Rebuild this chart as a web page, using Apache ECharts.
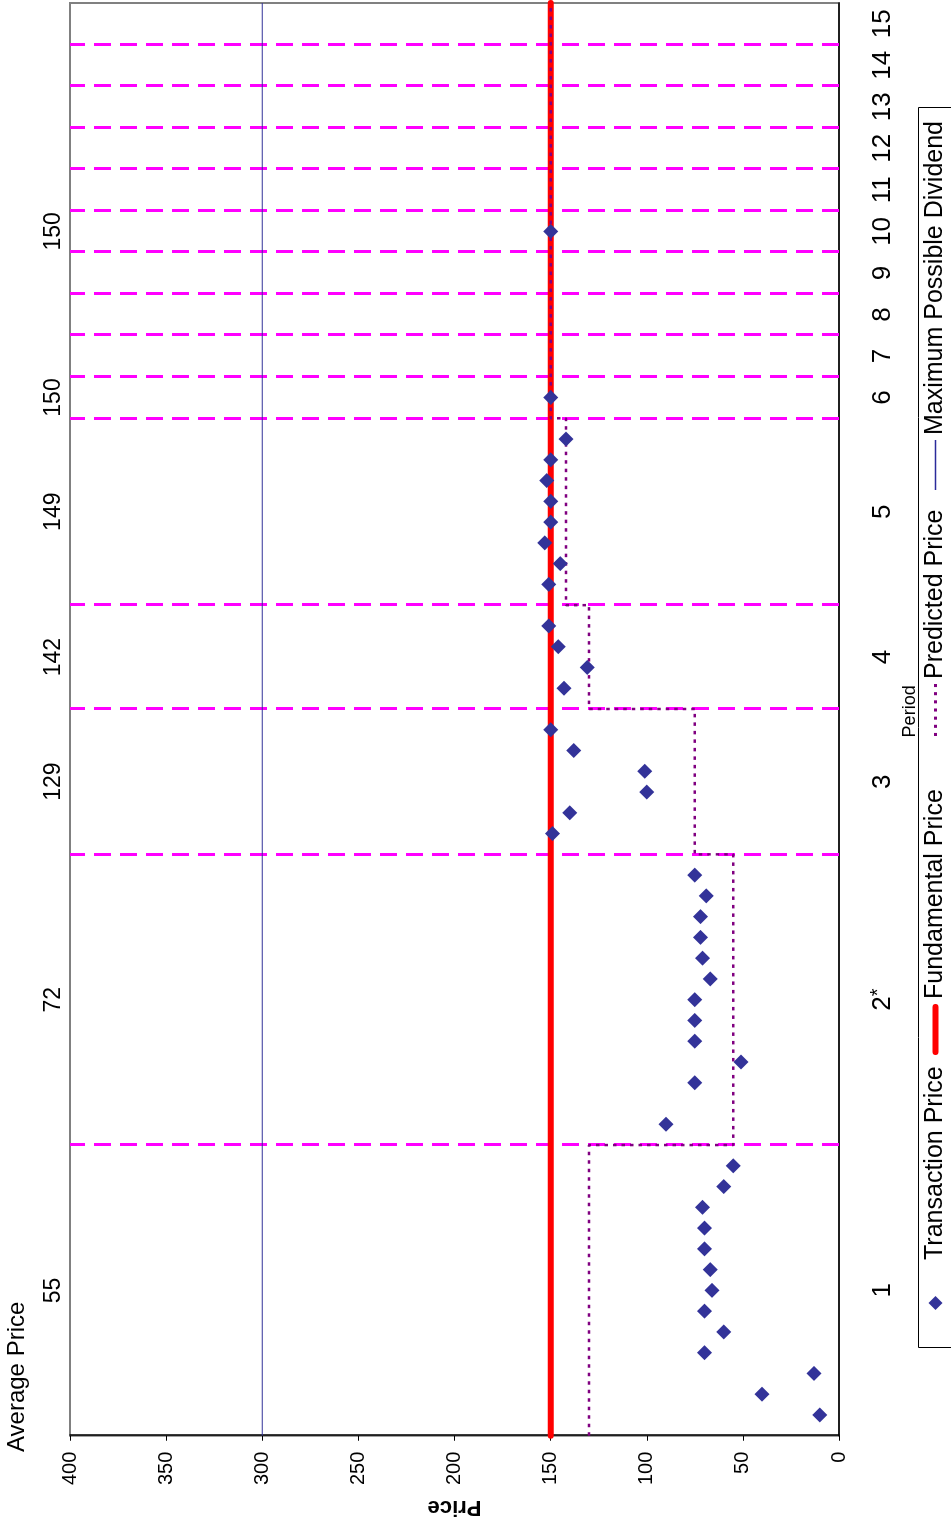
<!DOCTYPE html>
<html>
<head>
<meta charset="utf-8">
<script src="https://cdn.jsdelivr.net/npm/echarts@6/dist/echarts.min.js"></script>
<style>
html,body{margin:0;padding:0;width:951px;height:1526px;overflow:hidden;background:#fff;}
#chart{position:absolute;left:0;top:0;width:1526px;height:951px;transform-origin:0 0;transform:translate(0,1526px) rotate(-90deg);}
</style>
</head>
<body>
<div id="chart"></div>
<script>
// ---- data ----
const periodLabels = ['1','2*','3','4','5','6','7','8','9','10','11','12','13','14','15'];
const periodBounds = [0,14,28,35,40,49,51,53,55,57,59,61,63,65,67,69];
const transSlot = [1,2,3,4,5,6,7,8,9,10,11,12,13,
                   15,17,18,19,20,21,22,23,24,25,26,27,
                   29,30,31,32,33,34,
                   36,37,38,39,
                   41,42,43,44,45,46,47,48,
                   50,58];
const transPrice = [10,40,13,70,60,70,66,67,70,70,71,60,55,
                    90,75,51,75,75,75,67,71,72,72,69,75,
                    149,140,100,101,138,150,
                    143,131,146,151,
                    151,145,153,150,150,152,150,142,
                    150,150];
const avgPeriods = [1,2,3,4,5,6,10];
const avgLabels = ['55','72','129','142','149','150','150'];
const predictedPrice = [130,55,75,130,142,150,150,150,150,150,150,150,150,150,150];
const fundamentalPrice = [150,150,150,150,150,150,150,150,150,150,150,150,150,150,150];
const maxDividend = [300,300,300,300,300,300,300,300,300,300,300,300,300,300,300];
const priceMin = 0, priceMax = 400, priceInterval = 50;

// ---- fonts ----
function hasFont(name) {
  const c = document.createElement('canvas').getContext('2d');
  const t = 'mmmmmmmmwwwwwlli0123456789';
  c.font = '40px monospace';
  const w0 = c.measureText(t).width;
  c.font = '40px "' + name + '", monospace';
  return Math.abs(c.measureText(t).width - w0) > 0.5;
}
const FF = '"Liberation Sans", Arial, Helvetica, sans-serif';
const hasNarrow = hasFont('Liberation Sans Narrow');
const NF = hasNarrow ? '"Liberation Sans Narrow", "Arial Narrow", sans-serif' : FF;
const tickSize = hasNarrow ? 22 : 20;
const avgSize = hasNarrow ? 26 : 23;
const priceNameSize = hasNarrow ? 24 : 22;

// ---- helpers ----
const lastSlot = periodBounds[periodBounds.length - 1];
const periodCenters = periodLabels.map((_, i) => (periodBounds[i] + periodBounds[i + 1]) / 2);
const avgCenters = avgPeriods.map(p => periodCenters[p - 1]);
function stepData(vals) {
  const pts = vals.map((v, i) => [periodBounds[i], v]);
  pts.push([lastSlot, vals[vals.length - 1]]);
  return pts;
}
function findIdx(arr, v) {
  for (let i = 0; i < arr.length; i++) if (Math.abs(arr[i] - v) < 1e-6) return i;
  return -1;
}
function periodText(lbl) {
  const m = /^(\d+)\*$/.exec(lbl);
  return m ? '{n|' + m[1] + '}{s|*}' : '{n|' + lbl + '}';
}
// dotted legend key: small squares along a 52 px strip
let dotPath = 'path://';
for (let x = 0; x + 3 <= 52; x += 8) dotPath += 'M' + x + ',0h3v3h-3z';
const capsulePath = 'path://M3,0L48,0A3,3,0,0,1,48,6L3,6A3,3,0,0,1,3,0Z';

const chart = echarts.init(document.getElementById('chart'), null, {width: 1526, height: 951});
const legendBase = {
  orient: 'horizontal', padding: 0, selectedMode: false, symbolKeepAspect: false,
  textStyle: {fontSize: 25, color: '#000', fontFamily: FF}
};

chart.setOption({
  animation: false,
  backgroundColor: '#fff',
  textStyle: {fontFamily: FF},
  title: {
    text: 'Average Price', left: 74, top: 5, padding: 0,
    textStyle: {fontSize: 24, fontWeight: 'normal', color: '#000', fontFamily: FF}
  },
  legend: [
    Object.assign({}, legendBase, {
      data: [{name: 'Transaction Price', icon: 'diamond', itemStyle: {color: '#333399', opacity: 1}, textStyle: {padding: [0, 0, 0, 31]}}],
      left: 216, top: 923, itemWidth: 14, itemHeight: 14
    }),
    Object.assign({}, legendBase, {
      data: [{name: 'Fundamental Price', icon: capsulePath, itemStyle: {color: '#FF0000', borderWidth: 0}}],
      left: 471, top: 923, itemWidth: 51, itemHeight: 6
    }),
    Object.assign({}, legendBase, {
      data: [{name: 'Predicted Price', icon: dotPath, itemStyle: {color: '#800080', borderWidth: 0}}],
      left: 790, top: 923, itemWidth: 52, itemHeight: 3
    }),
    Object.assign({}, legendBase, {
      data: [{name: 'Maximum Possible Dividend', icon: 'rect', itemStyle: {color: '#2b2b9a', borderWidth: 0}}],
      left: 1036, top: 923, itemWidth: 50, itemHeight: 1.6
    })
  ],
  graphic: [{
    type: 'rect', left: 178, top: 918, z: -1,
    shape: {width: 1240, height: 60},
    style: {fill: '#fff', stroke: '#000', lineWidth: 1}
  }],
  grid: {left: 86, right: 3, top: 70, bottom: 112, show: true, borderColor: '#808080', borderWidth: 2, backgroundColor: '#fff'},
  xAxis: [{
    type: 'value', min: 0, max: lastSlot, position: 'bottom',
    axisLine: {show: true, onZero: false, lineStyle: {color: '#000', width: 1.5}},
    axisTick: {show: false},
    splitLine: {show: false},
    axisLabel: {
      customValues: periodCenters, margin: 29, color: '#000', fontFamily: FF,
      formatter: v => { const i = findIdx(periodCenters, v); return i >= 0 ? periodText(periodLabels[i]) : ''; },
      rich: {
        n: {fontSize: 26, lineHeight: 28, color: '#000', fontFamily: FF, verticalAlign: 'bottom'},
        s: {fontSize: 20, lineHeight: 28, color: '#000', fontFamily: FF, verticalAlign: 'top', padding: [0, 0, 6, 0]}
      }
    },
    name: 'Period', nameLocation: 'middle', nameGap: 13,
    nameTextStyle: {fontSize: 18, color: '#000', fontFamily: FF, verticalAlign: 'top', padding: [0, 0, 0, 16]}
  }, {
    type: 'value', min: 0, max: lastSlot, position: 'top',
    axisLine: {show: false}, axisTick: {show: false}, splitLine: {show: false},
    axisLabel: {
      customValues: avgCenters, margin: 5, fontSize: avgSize, color: '#000', fontFamily: NF,
      formatter: v => { const i = findIdx(avgCenters, v); return i >= 0 ? avgLabels[i] : ''; }
    }
  }],
  yAxis: {
    type: 'value', min: priceMin, max: priceMax, interval: priceInterval,
    axisLine: {show: true, lineStyle: {color: '#000', width: 1.5}},
    axisTick: {show: true, inside: false, length: 5, lineStyle: {color: '#000', width: 1}},
    splitLine: {show: false},
    axisLabel: {fontSize: tickSize, margin: 16, color: '#000', fontFamily: NF},
    name: 'Price', nameLocation: 'middle', nameGap: 56,
    nameTextStyle: {fontSize: priceNameSize, fontWeight: 'bold', color: '#000', fontFamily: NF}
  },
  series: [{
    name: 'Maximum Possible Dividend', type: 'line', xAxisIndex: 0, z: 2,
    data: stepData(maxDividend), step: 'end', symbol: 'none',
    lineStyle: {color: '#333399', width: 1},
    itemStyle: {color: '#333399'},
    markLine: {
      silent: true, symbol: ['none', 'none'], z: 1, animation: false,
      label: {show: false},
      lineStyle: {color: '#FF00FF', width: 3, type: [17, 9]},
      emphasis: {disabled: true},
      data: periodBounds.slice(1, -1).map(b => [{coord: [b, priceMin]}, {coord: [b, priceMax]}])
    }
  }, {
    name: 'Fundamental Price', type: 'line', xAxisIndex: 0, z: 3, clip: false,
    data: stepData(fundamentalPrice), step: 'end', symbol: 'none',
    lineStyle: {color: '#FF0000', width: 6, cap: 'round'},
    itemStyle: {color: '#FF0000'}
  }, {
    name: 'Predicted Price', type: 'line', xAxisIndex: 0, z: 4,
    data: stepData(predictedPrice), step: 'end', symbol: 'none',
    lineStyle: {color: '#800080', width: 2.5, type: [3.5, 5]},
    itemStyle: {color: '#800080'}
  }, {
    name: 'Transaction Price', type: 'scatter', xAxisIndex: 0, z: 6,
    symbol: 'diamond', symbolSize: 15,
    itemStyle: {color: '#333399', opacity: 1},
    data: transSlot.map((s, i) => [s, transPrice[i]])
  }]
});
</script>
</body>
</html>
